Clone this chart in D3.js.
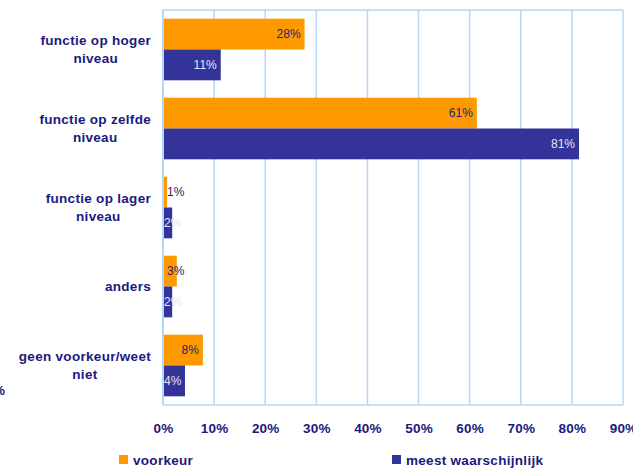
<!DOCTYPE html>
<html>
<head>
<meta charset="utf-8">
<title>voorkeur functie</title>
<script src="https://cdnjs.cloudflare.com/ajax/libs/d3/7.8.5/d3.min.js"></script>
<style>
  body { margin: 0; background: #fff; }
  svg { display: block; font-family: "Liberation Sans", Arial, sans-serif; }
  .cat { font-weight: bold; font-size: 13.5px; letter-spacing: 0.3px; fill: #1a1a7e; }
  .tick text { font-weight: bold; font-size: 13.5px; letter-spacing: 0.2px; fill: #1a1a7e; }
  .val { font-size: 12px; }
  .leg { font-weight: bold; font-size: 13.5px; letter-spacing: 0.3px; fill: #1a1a7e; }
</style>
</head>
<body>
<svg id="chart" width="633" height="468"></svg>
<script>
// data
const categories = [
  ["functie op hoger", "niveau"],
  ["functie op zelfde", "niveau"],
  ["functie op lager", "niveau"],
  ["anders"],
  ["geen voorkeur/weet", "niet"]
];
const seriesNames = ["voorkeur", "meest waarschijnlijk"];
const voorkeur = [27.7, 61.4, 0.8, 2.7, 7.8];
const meestWaarschijnlijk = [11.3, 81.4, 1.8, 1.8, 4.3];
const xTicks = [0, 10, 20, 30, 40, 50, 60, 70, 80, 90];

const colors = ["#ff9900", "#333399"];
const labelColors = ["#26266a", "#e6e6f6"];
const gridColor = "#b3d7fb";

const svg = d3.select("#chart");
const pLeft = 163, pRight = 623, pTop = 10, pBottom = 405;

const x = d3.scaleLinear().domain([0, 90]).range([pLeft, pRight]);
const y = d3.scaleBand().domain(d3.range(categories.length)).range([pTop, pBottom]).paddingInner(0.22).paddingOuter(0.11);
const ySub = d3.scaleBand().domain([0, 1]).range([0, y.bandwidth()]);

// gridlines
svg.append("g").selectAll("line").data(xTicks).join("line")
  .attr("x1", d => x(d)).attr("x2", d => x(d))
  .attr("y1", pTop).attr("y2", pBottom)
  .attr("stroke", gridColor).attr("stroke-width", 1.5);
svg.append("line").attr("x1", pLeft).attr("x2", pRight).attr("y1", pTop).attr("y2", pTop)
  .attr("stroke", gridColor).attr("stroke-width", 1.5);
svg.append("line").attr("x1", pLeft).attr("x2", pRight).attr("y1", pBottom).attr("y2", pBottom)
  .attr("stroke", gridColor).attr("stroke-width", 1.5);

// bars
const series = [voorkeur, meestWaarschijnlijk];
series.forEach((vals, s) => {
  const g = svg.append("g");
  g.selectAll("rect").data(vals).join("rect")
    .attr("x", x(0))
    .attr("y", (d, i) => y(i) + ySub(s))
    .attr("width", d => x(d) - x(0))
    .attr("height", ySub.bandwidth())
    .attr("fill", colors[s]);
  g.selectAll("text").data(vals).join("text")
    .attr("class", "val")
    .attr("fill", labelColors[s])
    .attr("y", (d, i) => y(i) + ySub(s) + ySub.bandwidth() / 2)
    .attr("dy", "0.35em")
    .attr("text-anchor", "end")
    .text(d => Math.round(d) + "%")
    .attr("x", function(d) {
      const w = this.getComputedTextLength();
      return Math.max(x(d) - 4, pLeft + (s ? 1 : 4) + w);
    });
});

// axis
const xAxis = d3.axisBottom(x).tickValues(xTicks).tickFormat(d => d + "%").tickSize(0).tickPadding(18);
svg.append("g").attr("transform", `translate(0,${pBottom})`).call(xAxis)
  .call(g => g.select(".domain").remove());
svg.append("line").attr("x1", pLeft).attr("x2", pLeft).attr("y1", pTop).attr("y2", pBottom)
  .attr("stroke", gridColor).attr("stroke-width", 2);

// category labels (centred block, right edge at 151)
categories.forEach((lines, i) => {
  const t = svg.append("text").attr("class", "cat").attr("text-anchor", "middle");
  const cy = y(i) + y.bandwidth() / 2;
  const lh = 18;
  lines.forEach((ln, j) => {
    t.append("tspan").text(ln)
      .attr("y", cy + (j - (lines.length - 1) / 2) * lh)
      .attr("dy", "0.35em");
  });
  let maxW = 0;
  t.selectAll("tspan").each(function() { maxW = Math.max(maxW, this.getComputedTextLength()); });
  t.selectAll("tspan").attr("x", 151 - maxW / 2);
});

// stray clipped glyph at the left edge
svg.append("text").attr("class", "cat").attr("x", -7).attr("y", 395).text("%");

// legend
const legX = [119, 392];
seriesNames.forEach((n, s) => {
  svg.append("rect").attr("x", legX[s]).attr("y", 455).attr("width", 9).attr("height", 9).attr("fill", colors[s]);
  svg.append("text").attr("class", "leg").attr("x", legX[s] + 14).attr("y", 460).attr("dy", "0.35em").text(n);
});
</script>
</body>
</html>
